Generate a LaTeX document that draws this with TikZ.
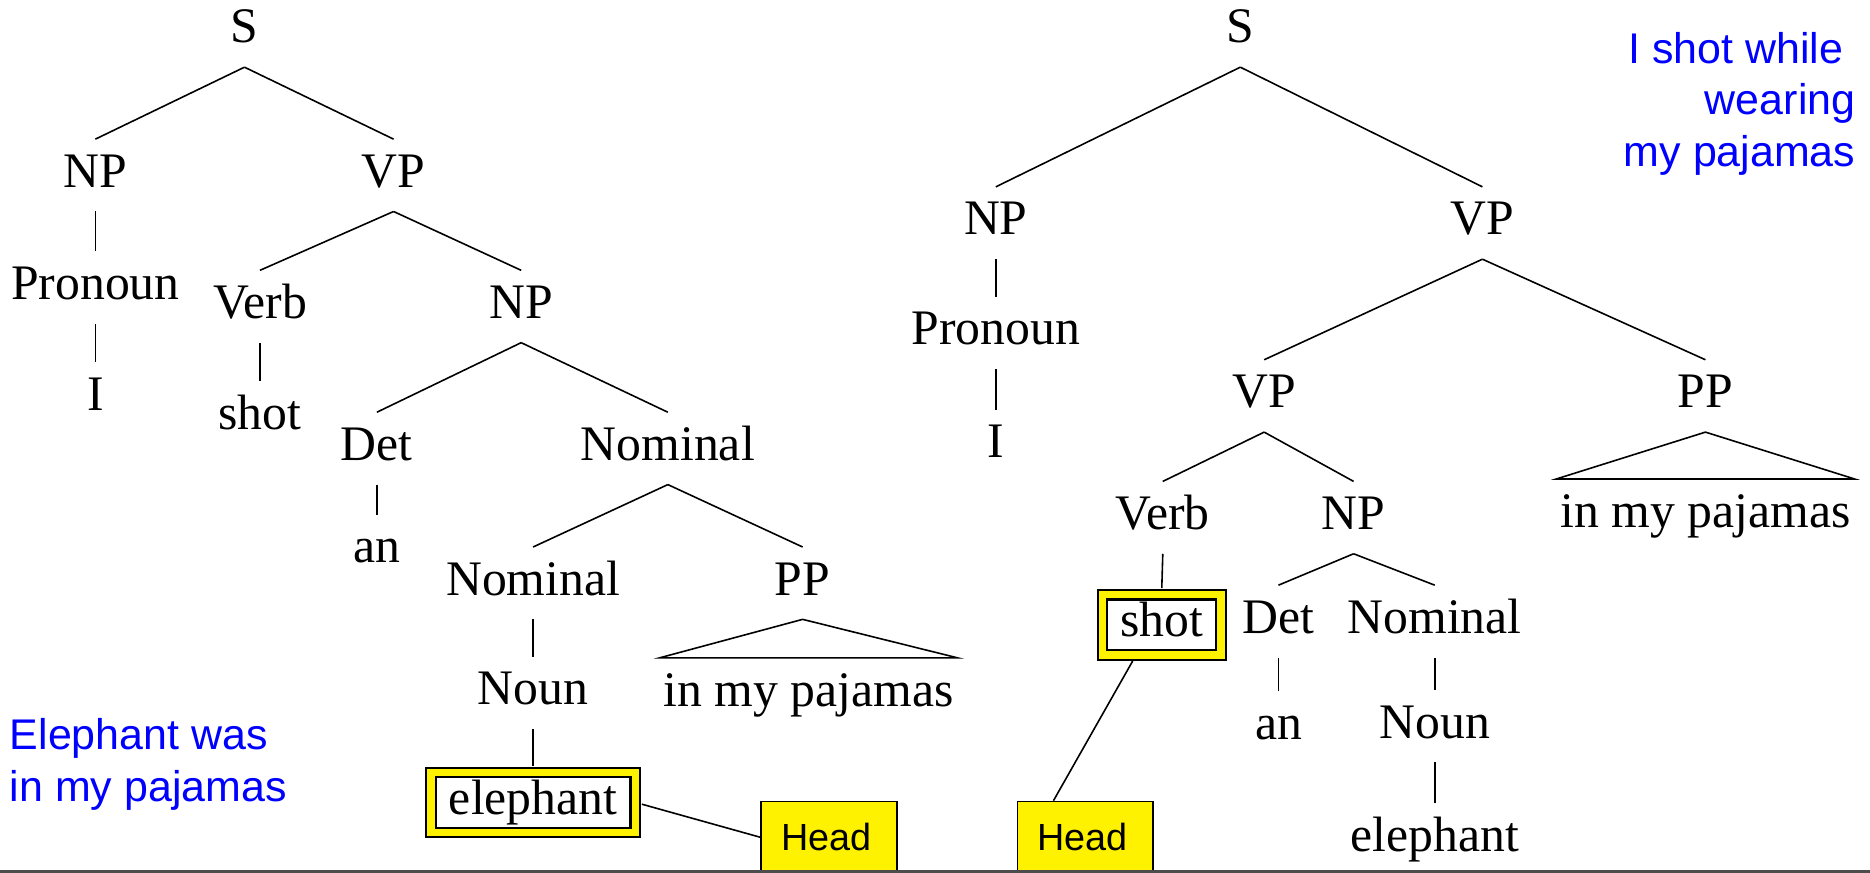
\documentclass[tikz,border=0pt]{standalone}
\usepackage{fontspec}
\setmainfont{Liberation Serif}
\newfontfamily\arialfont{Liberation Sans}

\begin{document}
\begin{tikzpicture}[x=0.6pt, y=-0.6pt,
  word/.style={font=\fontsize{25}{30}\selectfont, inner xsep=2pt, inner ysep=7pt,
    text height=17pt, text depth=5pt},
  headword/.style={word, inner xsep=9pt, inner ysep=4.1pt, draw=black, line width=1.1pt,
    double=yellow, double distance=3.6pt, fill=white},
  headbox/.style={draw=black, line width=0.8pt, fill=yellow, text width=48pt,
    inner xsep=10.2pt, minimum height=36pt, align=left,
    font=\arialfont\fontsize{19}{22}\selectfont},
  note/.style={text=blue, inner sep=0pt, font=\arialfont\fontsize{21.6}{26}\selectfont},
  branch/.style={line width=0.8pt}]
  \useasboundingbox (0,0) rectangle (1568,732);

  % left tree: elephant in my pajamas
  \node[word] (lS)     at (205,26)  {S};
  \node[word] (lNP)    at (80,147)  {NP};
  \node[word] (lVP)    at (330,147) {VP};
  \node[word] (lPron)  at (80,241)  {Pronoun};
  \node[word] (lI)     at (80,334)  {I};
  \node[word] (lVerb)  at (218,257) {Verb};
  \node[word] (lShot)  at (218,350) {shot};
  \node[word] (lNP2)   at (437,257) {NP};
  \node[word] (lDet)   at (316,376) {Det};
  \node[word] (lNom)   at (560,376) {Nominal};
  \node[word] (lAn)    at (316,462) {an};
  \node[word] (lNom2)  at (447,489) {Nominal};
  \node[word] (lPP)    at (673,489) {PP};
  \node[word] (lNoun)  at (447,581) {Noun};
  \node[word] (lPj)    at (678,582) {in my pajamas};
  \node[headword] (lEleph) at (447,673) {elephant};

  % right tree: shot while wearing my pajamas
  \node[word] (rS)     at (1040,26)  {S};
  \node[word] (rNP)    at (835,187)  {NP};
  \node[word] (rVP)    at (1243,187) {VP};
  \node[word] (rPron)  at (835,279)  {Pronoun};
  \node[word] (rI)     at (835,374)  {I};
  \node[word] (rVP2)   at (1060,332) {VP};
  \node[word] (rPP)    at (1430,332) {PP};
  \node[word] (rPj)    at (1430,432) {in my pajamas};
  \node[word] (rVerb)  at (975,434)  {Verb};
  \node[word] (rNP2)   at (1135,434) {NP};
  \node[headword] (rShot) at (974,524) {shot};
  \node[word] (rDet)   at (1072,521) {Det};
  \node[word] (rNom)   at (1203,521) {Nominal};
  \node[word] (rAn)    at (1072,610) {an};
  \node[word] (rNoun)  at (1203,609) {Noun};
  \node[word] (rEleph) at (1203,704) {elephant};

  \foreach \p/\c in {lS/lNP, lS/lVP, lNP/lPron, lPron/lI, lVP/lVerb, lVP/lNP2,
      lVerb/lShot, lNP2/lDet, lNP2/lNom, lDet/lAn, lNom/lNom2, lNom/lPP, lNom2/lNoun,
      rS/rNP, rS/rVP, rNP/rPron, rPron/rI, rVP/rVP2, rVP/rPP, rVP2/rVerb, rVP2/rNP2,
      rNP2/rDet, rNP2/rNom, rDet/rAn, rNom/rNoun, rNoun/rEleph}
    \draw[branch] (\p.south) -- (\c.north);
  \draw[branch, shorten >=2.9pt] (lNoun.south) -- (lEleph.north);
  \draw[branch, shorten >=2.9pt] (rVerb.south) -- (rShot.north);
  \draw[branch] (lPP.south) -- (lPj.north west) -- (lPj.north east) -- cycle;
  \draw[branch] (rPP.south) -- (rPj.north west) -- (rPj.north east) -- cycle;

  % heads
  \node[headbox] (headA) at (695,702) {Head};
  \node[headbox] (headB) at (910,702) {Head};
  \draw[branch, shorten <=2.9pt] (lEleph.east) -- (headA.west);
  \draw[branch, shorten <=2.9pt] (rShot.230) -- (headB.131);

  \node[note, anchor=west, align=left] (noteL) at (8,641) {Elephant was\\in my pajamas};
  \node[note, anchor=east, align=right] (noteR) at (1556,87)
    {I shot while\hspace*{6pt}\\wearing\\my pajamas};

  \draw[black!70, line width=1.6pt] (0,730.5) -- (1568,730.5);
\end{tikzpicture}
\end{document}
